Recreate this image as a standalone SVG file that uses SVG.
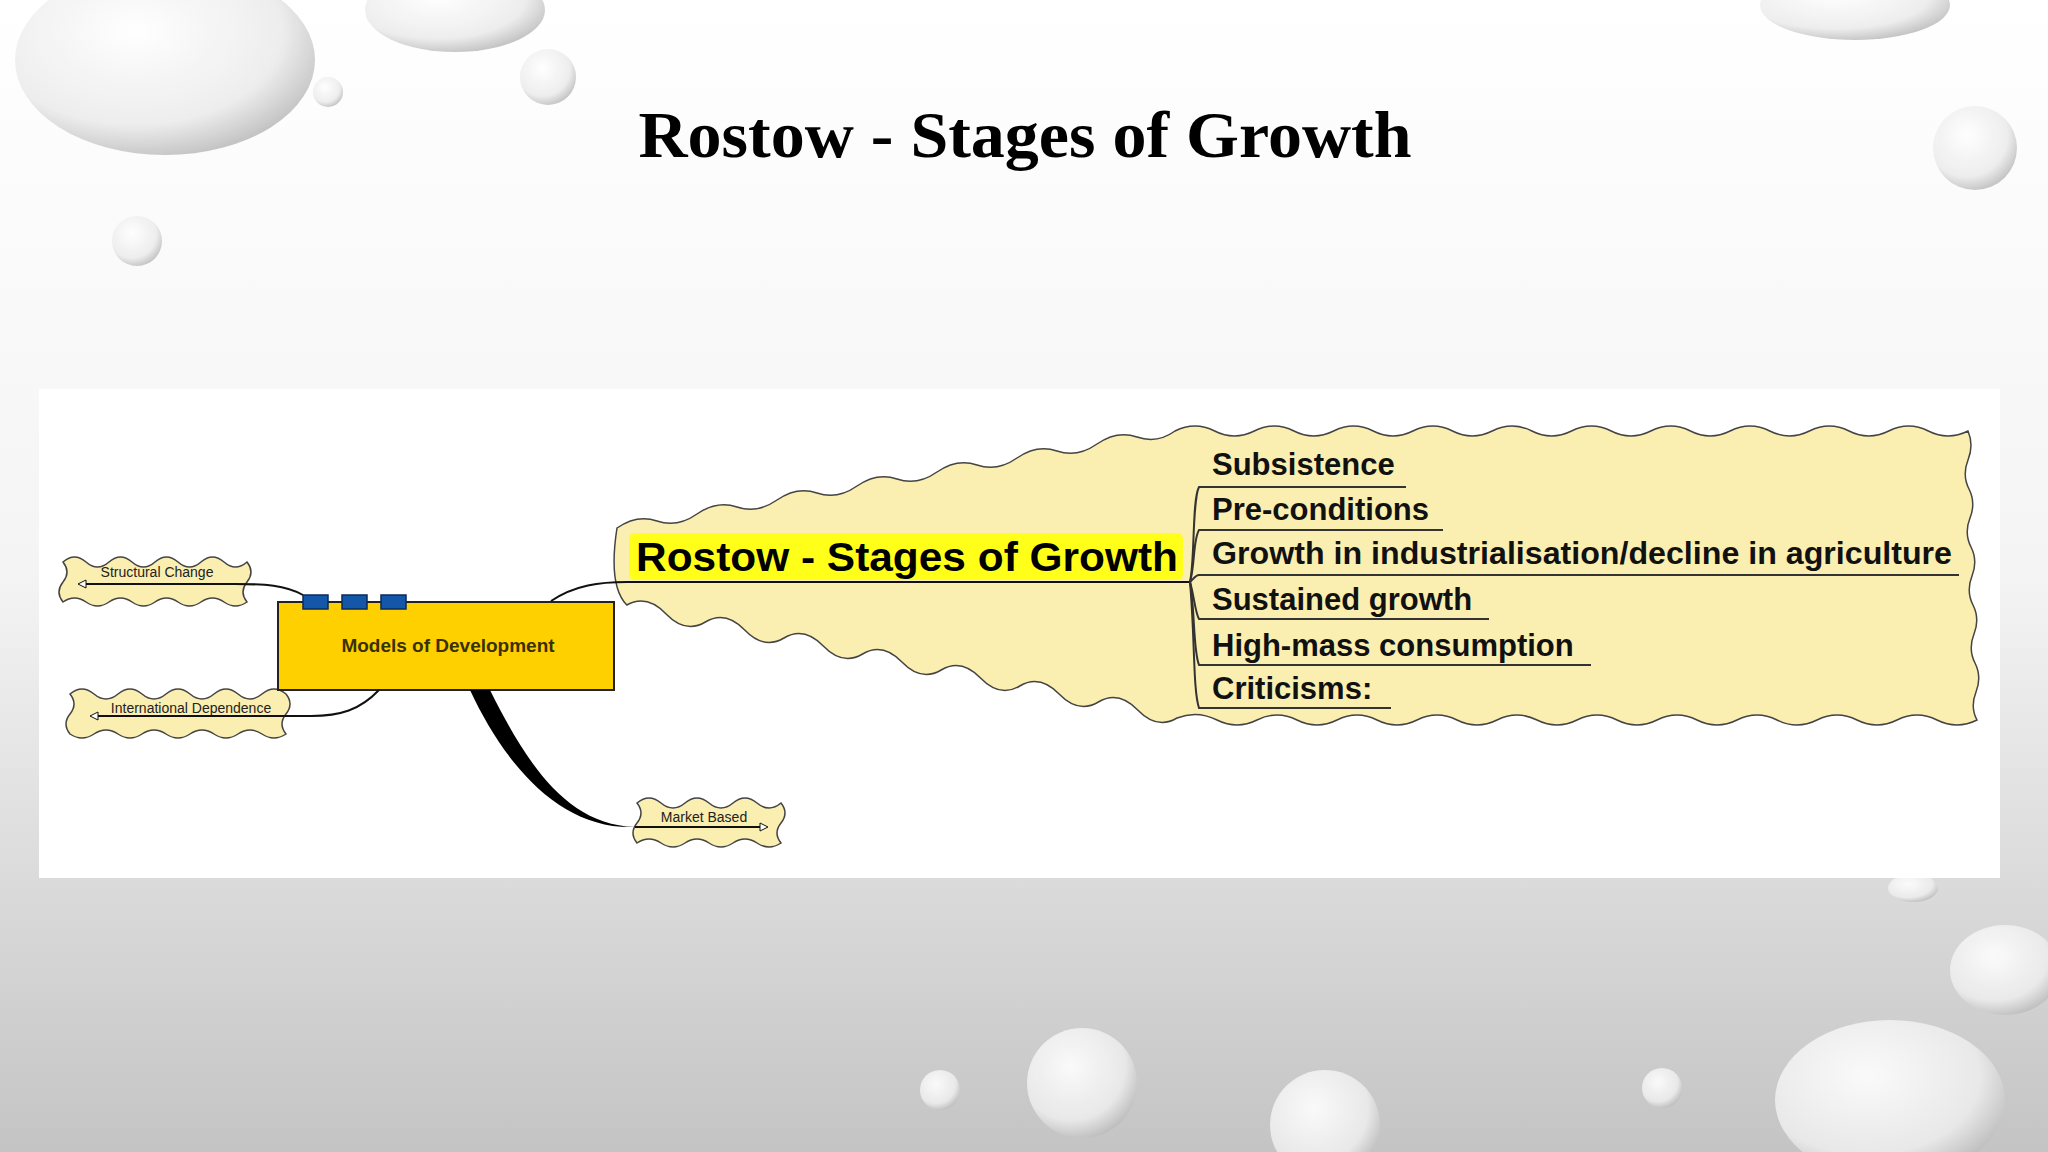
<svg xmlns="http://www.w3.org/2000/svg" width="2048" height="1152" viewBox="0 0 2048 1152">
<defs>
<linearGradient id="bg" x1="0" y1="0" x2="0" y2="1"><stop offset="0" stop-color="#ffffff"/><stop offset="0.5" stop-color="#f4f4f4"/><stop offset="1" stop-color="#c4c4c4"/></linearGradient>
<radialGradient id="drop" cx="0.4" cy="0.35" r="0.7"><stop offset="0" stop-color="#ffffff"/><stop offset="0.7" stop-color="#ececec"/><stop offset="1" stop-color="#b8b8b8"/></radialGradient>
<style>
.cloud{fill:#faeeb0;stroke:#444;stroke-width:1.5}
.sm{font-family:"Liberation Sans",Arial,sans-serif;font-size:14px;fill:#222}
.sub{font-family:"Liberation Sans",Arial,sans-serif;font-size:31px;font-weight:bold;fill:#111}
.ln{fill:none;stroke:#111;stroke-width:2}
.ul{fill:none;stroke:#333;stroke-width:2}
</style>
</defs>
<rect width="2048" height="1152" fill="url(#bg)"/>
<g id="drops" opacity="0.9">
<ellipse cx="165" cy="60" rx="150" ry="95" fill="url(#drop)"/>
<ellipse cx="455" cy="10" rx="90" ry="42" fill="url(#drop)"/>
<circle cx="548" cy="77" r="28" fill="url(#drop)"/>
<circle cx="328" cy="92" r="15" fill="url(#drop)"/>
<circle cx="137" cy="241" r="25" fill="url(#drop)"/>
<ellipse cx="1855" cy="5" rx="95" ry="35" fill="url(#drop)"/>
<circle cx="1975" cy="148" r="42" fill="url(#drop)"/>
<ellipse cx="1913" cy="888" rx="25" ry="14" fill="url(#drop)"/>
<ellipse cx="2005" cy="970" rx="55" ry="45" fill="url(#drop)"/>
<ellipse cx="1890" cy="1100" rx="115" ry="80" fill="url(#drop)"/>
<circle cx="1082" cy="1083" r="55" fill="url(#drop)"/>
<circle cx="940" cy="1090" r="20" fill="url(#drop)"/>
<circle cx="1325" cy="1125" r="55" fill="url(#drop)"/>
<circle cx="1662" cy="1088" r="20" fill="url(#drop)"/>
</g>
<text x="1025" y="157" text-anchor="middle" font-family="Liberation Serif,Times New Roman,serif" font-size="66" font-weight="bold" fill="#000" textLength="773" lengthAdjust="spacingAndGlyphs">Rostow - Stages of Growth</text>
<rect x="39" y="389" width="1961" height="489" fill="#ffffff"/>
<g id="structural">
<path class="cloud" d="M63,562 q11.5,-10 23,0 t23,0 t23,0 t23,0 t23,0 t23,0 t23,0 t23,0 q8,10 0,20 t0,20 q-11.5,8 -23,0 t-23,0 t-23,0 t-23,0 t-23,0 t-23,0 t-23,0 t-23,0 q-8,-10 0,-20 t0,-20 z"/>
<text class="sm" x="157" y="577" text-anchor="middle">Structural Change</text>
</g>
<g id="intl">
<path class="cloud" d="M70,694 q12,-10 24,0 t24,0 t24,0 t24,0 t24,0 t24,0 t24,0 t24,0 t24,0 q8,10 0,20 t0,20 q-12,8 -24,0 t-24,0 t-24,0 t-24,0 t-24,0 t-24,0 t-24,0 t-24,0 t-24,0 q-8,-10 0,-20 t0,-20 z"/>
<text class="sm" x="191" y="713" text-anchor="middle">International Dependence</text>
</g>
<g id="market">
<path class="cloud" d="M637,803 q12,-10 24,0 t24,0 t24,0 t24,0 t24,0 t24,0 q8,10 0,20 t0,20 q-12,8 -24,0 t-24,0 t-24,0 t-24,0 t-24,0 t-24,0 q-8,-10 0,-20 t0,-20 z"/>
<text class="sm" x="704" y="822" text-anchor="middle">Market Based</text>
</g>
<g id="rostow">
<path class="cloud" d="M617,528 q20,-14 40,-7 t40,-7 t40,-7 t40,-7 t40,-7 t40,-7 t40,-7 t40,-7 t40,-7 t40,-7 t40,-7 t40,-7 t40,-7 t38,-6 q20,-10 39.65,0 t39.65,0 t39.65,0 t39.65,0 t39.65,0 t39.65,0 t39.65,0 t39.65,0 t39.65,0 t39.65,0 t39.65,0 t39.65,0 t39.65,0 t39.65,0 t39.65,0 t39.65,0 t39.65,0 t39.65,0 t39.65,0 t39.65,0 q6,14 0,29 t1,29 t1,29 t1,29 t1,29 t1,29 t1,29 t1,29 t1,29 t1,28 q-20,10 -40,0 t-40,0 t-40,0 t-40,0 t-40,0 t-40,0 t-40,0 t-40,0 t-40,0 t-40,0 t-40,0 t-40,0 t-40,0 t-40,0 t-40,0 t-40,0 t-40,0 t-40,0 t-40,0 t-40,-2 q-20,12 -39.3,-8 t-39.3,-8 t-39.3,-8 t-39.3,-8 t-39.3,-8 t-39.3,-8 t-39.3,-8 t-39.3,-8 t-39.3,-8 t-39.3,-8 t-39.3,-8 t-39.3,-8 t-39.3,-8 t-39.3,-9 C612,590 612,560 617,528 z"/>
<rect x="629" y="533" width="554" height="47" rx="6" fill="#ffff1a"/>
<text x="636" y="571" font-family="Liberation Sans,Arial,sans-serif" font-size="41" font-weight="bold" fill="#000" textLength="542" lengthAdjust="spacingAndGlyphs">Rostow - Stages of Growth</text>
<path class="ln" d="M627,582 L1190,582"/>
<g class="ul">
<path d="M1190,582 C1195,560 1192,500 1199,487 L1406,487"/>
<path d="M1190,582 C1195,565 1193,540 1199,530 L1443,530"/>
<path d="M1190,582 C1194,578 1196,575 1199,575 L1959,575"/>
<path d="M1190,582 C1194,595 1195,612 1199,619 L1489,619"/>
<path d="M1190,582 C1195,610 1193,650 1199,665 L1591,665"/>
<path d="M1190,582 C1195,640 1193,690 1199,708 L1391,708"/>
</g>
<text class="sub" x="1212" y="475">Subsistence</text>
<text class="sub" x="1212" y="520">Pre-conditions</text>
<text class="sub" x="1212" y="564" textLength="740" lengthAdjust="spacingAndGlyphs">Growth in industrialisation/decline in agriculture</text>
<text class="sub" x="1212" y="610">Sustained growth</text>
<text class="sub" x="1212" y="656">High-mass consumption</text>
<text class="sub" x="1212" y="699">Criticisms:</text>
</g>
<g id="models">
<rect x="278" y="602" width="336" height="88" fill="#ffd000" stroke="#222" stroke-width="2"/>
<rect x="303" y="595" width="25" height="14" fill="#1457a8" stroke="#0a2a5a" stroke-width="1.5"/>
<rect x="342" y="595" width="25" height="14" fill="#1457a8" stroke="#0a2a5a" stroke-width="1.5"/>
<rect x="381" y="595" width="25" height="14" fill="#1457a8" stroke="#0a2a5a" stroke-width="1.5"/>
<text x="448" y="652" text-anchor="middle" font-family="Liberation Sans,Arial,sans-serif" font-size="19" font-weight="bold" fill="#3a3000">Models of Development</text>
</g>
<g id="connectors">
<path class="ln" d="M551,601 C575,585 600,582 627,582"/>
<path class="ln" d="M303,595 C285,585 265,584 235,584 L80,584"/>
<path d="M78,584 l8,-4 v8 z" fill="#fff" stroke="#111" stroke-width="1"/>
<path class="ln" d="M379,690 C360,710 340,716 311,716 L92,716"/>
<path d="M90,716 l8,-4 v8 z" fill="#fff" stroke="#111" stroke-width="1"/>
<path d="M470,690 L490,690 C525,760 565,825 635,827 C560,830 505,765 470,690 Z" fill="#000"/>
<path class="ln" d="M635,827 L760,827"/>
<path d="M768,827 l-8,-4 v8 z" fill="#fff" stroke="#111" stroke-width="1"/>
</g>
</svg>
